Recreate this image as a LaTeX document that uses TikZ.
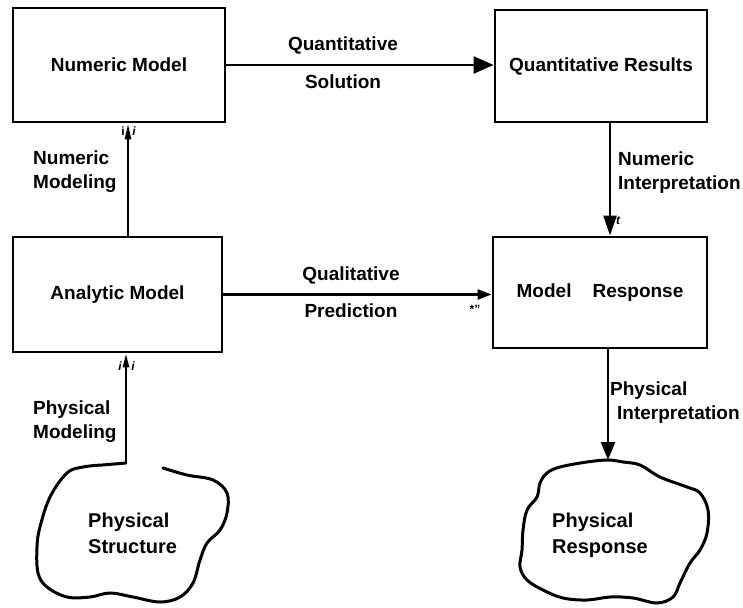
\documentclass[tikz,border=0pt]{standalone}
\usepackage{fontspec}
\setmainfont{Liberation Sans}
\usetikzlibrary{arrows.meta,calc}
\begin{document}
\begin{tikzpicture}[x=1pt,y=-1pt,
  box/.style={draw,line width=2.8pt,inner sep=0pt,font=\fontsize{19}{23}\selectfont\bfseries},
  lbl/.style={inner sep=0pt,align=left,anchor=north west,font=\fontsize{19}{23.5}\selectfont\bfseries},
  cloudtxt/.style={inner sep=0pt,align=left,anchor=north west,font=\fontsize{20}{26}\selectfont\bfseries},
  conn/.style={line width=2.4pt},
  cloud/.style={line width=3pt,line join=round,line cap=round},
  art/.style={inner sep=0pt,font=\fontsize{12}{12}\selectfont\bfseries}]
\useasboundingbox (0,0) rectangle (743,607);

% boxes
\node[box,minimum width=212pt,minimum height=114pt] (nm) at (119,65) {Numeric Model};
\node[box,minimum width=212pt,minimum height=112pt] (qr) at (601,66) {Quantitative Results};
\node[box,minimum width=209pt,minimum height=115pt] (am) at (117.5,294.5) {Analytic Model};
\node[box,minimum width=214pt,minimum height=111pt] (mr) at (600,292.5) {Model\hspace{21pt}Response};

% coordinates of vertical connectors
\coordinate (nmx) at (128,0);
\coordinate (nix) at (610,0);
\coordinate (ps) at (126,463);
\coordinate (stub) at (102,465);
\coordinate (pr) at (608,460);

% horizontal connectors
\draw[conn,-{Triangle[length=20pt,width=17pt]}] (nm.east) -- (nm.east -| qr.west);
\draw[conn,-{Triangle[length=14pt,width=10pt]}] (am.east) -- (am.east -| mr.west);

% vertical connectors
\draw[conn,-{Triangle[length=16pt,width=6pt]}] (am.north -| nmx) -- (nm.south -| nmx);
\draw[conn,-{Triangle[length=20pt,width=13pt]}] (qr.south -| nix) -- (mr.north -| nix);
\draw[conn,-{Triangle[length=14pt,width=6pt]}] (ps) -- (am.south -| ps);
\draw[conn,-{Triangle[length=18pt,width=14pt]}] (mr.south -| pr) -- (pr);

% clouds
\draw[cloud] plot[smooth,tension=0.6] coordinates {(163,468) (187,475) (213,480) (227,493) (227,513) (220,530) (207,543) (200,560) (193,583) (180,597) (160,602) (133,597) (110,593) (90,597) (67,597) (47,587) (38,573) (37,547) (40,527) (50,497) (67,473) (83,467) (102,465)} -- (ps);
\draw[cloud] plot[smooth cycle,tension=0.6] coordinates {(608,460) (587,462) (560,467) (547,473) (540,483) (537,497) (527,510) (523,530) (522,550) (520,567) (527,580) (543,590) (563,598) (587,600) (610,597) (633,598) (657,603) (673,597) (680,583) (690,563) (700,550) (707,533) (708,510) (700,493) (687,487) (660,477) (640,465) (623,462)};

% labels
\node[lbl] (lnm) at (33,151) {Numeric\\Modeling};
\node[lbl] (lni) at (618,152) {Numeric\\Interpretation};
\node[lbl] (lpm) at (33,401) {Physical\\Modeling};
\node[lbl] (lpi) at (610,382) {Physical\\\hspace*{7pt}Interpretation};
\node[lbl,anchor=north,align=center] (lqs) at (343,37) {Quantitative\\[14.5pt]Solution};
\node[lbl,anchor=north,align=center] (lqp) at (351,267) {Qualitative\\[13.5pt]Prediction};
\node[cloudtxt] (tps) at (88,513) {Physical\\Structure};
\node[cloudtxt] (tpr) at (552,513) {Physical\\Response};

% small marks printed in the picture
\node[art] (a1) at (123,131) {i};
\node[art] (a2) at (134,131) {\itshape i};
\node[art] (a3) at (120,366) {\itshape i};
\node[art] (a4) at (133,366) {\itshape i};
\node[art] (a5) at (475,309) {*\symbol{34}};
\node[art] (a6) at (618,221) {\itshape t};
\end{tikzpicture}
\end{document}
